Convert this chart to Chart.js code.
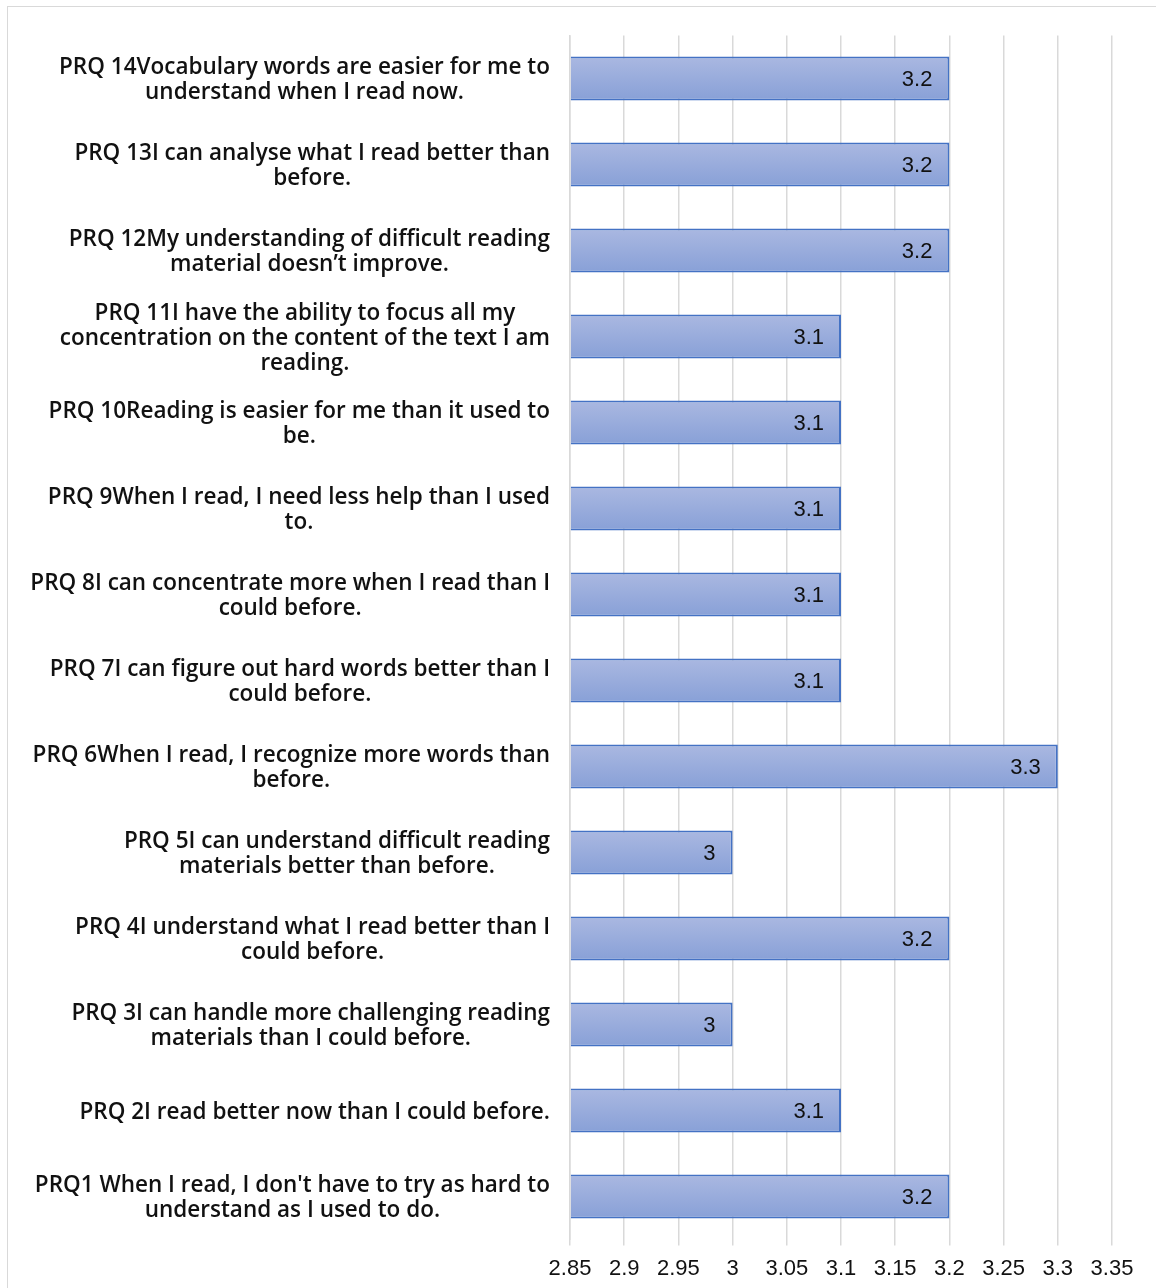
<!DOCTYPE html>
<html>
<head>
<meta charset="utf-8">
<script src="https://cdn.jsdelivr.net/npm/chart.js@4.4.1/dist/chart.umd.min.js"></script>
<style>
  html, body { margin: 0; padding: 0; background: #fff; }
  #frame { position: absolute; left: 7px; top: 6px; width: 1170px; height: 1300px; border: 1px solid #d9d9d9; }
  #wrap { position: absolute; left: 0; top: 0; width: 1156px; height: 1288px; }
</style>
</head>
<body>
<div id="frame"></div>
<div id="wrap"><canvas id="myChart"></canvas></div>
<script>
// categories, top to bottom (already wrapped the way the original shows them)
const categories = [
    ['PRQ 14Vocabulary words are easier for me to', 'understand when I read now.'],
    ['PRQ 13I can analyse what I read better than', 'before.'],
    ['PRQ 12My understanding of difficult reading', 'material doesn\u2019t improve.'],
    ['PRQ 11I have the ability to focus all my', 'concentration on the content of the text I am', 'reading.'],
    ['PRQ 10Reading is easier for me than it used to', 'be.'],
    ['PRQ 9When I read, I need less help than I used', 'to.'],
    ['PRQ 8I can concentrate more when I read than I', 'could before.'],
    ['PRQ 7I can figure out hard words better than I', 'could before.'],
    ['PRQ 6When I read, I recognize more words than', 'before.'],
    ['PRQ 5I can understand difficult reading', 'materials better than before.'],
    ['PRQ 4I understand what I read better than I', 'could before.'],
    ['PRQ 3I can handle more challenging reading', 'materials than I could before.'],
    ['PRQ 2I read better now than I could before.'],
    ['PRQ1 When I read, I don\'t have to try as hard to', 'understand as I used to do.']
];
const values = [3.2, 3.2, 3.2, 3.1, 3.1, 3.1, 3.1, 3.1, 3.3, 3, 3.2, 3, 3.1, 3.2];
const xMin = 2.85;
const xMax = 3.35;
const xStep = 0.05;

const labelFont = '600 22.5px "Open Sans", "Noto Sans", sans-serif';
const barPct = 0.51;

function barGradient(context)
{
    const chart = context.chart;
    const y = chart.scales.y;
    if (!y || !chart.chartArea || context.dataIndex === undefined) return '#98ACDC';
    const c = y.getPixelForValue(context.dataIndex);
    const half = (y.height / categories.length) * barPct / 2;
    const g = chart.ctx.createLinearGradient(0, c - half, 0, c + half);
    g.addColorStop(0, '#AAB8E1');
    g.addColorStop(1, '#88A0D7');
    return g;
}

// category labels: lines centred on each other, block right-aligned to the axis
const catLabels = {
    id: 'catLabels',
    afterDraw(chart) {
        const ctx = chart.ctx;
        const y = chart.scales.y;
        const right = y.right - 20;
        const lineH = 25;
        ctx.save();
        ctx.font = labelFont;
        ctx.fillStyle = '#111';
        ctx.textAlign = 'center';
        ctx.textBaseline = 'middle';
        categories.forEach((lines, i) => {
            const c = y.getPixelForValue(i) + 2;
            let w = 0;
            lines.forEach(l => { w = Math.max(w, ctx.measureText(l).width); });
            const cx = right - w / 2;
            const top = c - (lines.length - 1) * lineH / 2;
            lines.forEach((l, k) => ctx.fillText(l, cx, top + k * lineH));
        });
        ctx.restore();
    }
};

// value labels inside the end of each bar
const valueLabels = {
    id: 'valueLabels',
    afterDatasetsDraw(chart) {
        const ctx = chart.ctx;
        const meta = chart.getDatasetMeta(0);
        ctx.save();
        ctx.font = '22px "Liberation Sans", Arial, sans-serif';
        ctx.fillStyle = '#111';
        ctx.textAlign = 'right';
        ctx.textBaseline = 'middle';
        meta.data.forEach((bar, i) => {
            ctx.fillText(String(values[i]), bar.x - 17, bar.y + 1);
        });
        ctx.restore();
    }
};

const data = {
    labels: categories.map(c => c.join(' ')),
    datasets: [{
        data: values,
        base: xMin,
        backgroundColor: barGradient,
        borderColor: '#4472C4',
        borderWidth: 2,
        categoryPercentage: 1,
        barPercentage: barPct
    }]
};

const config = {
    type: 'bar',
    data: data,
    options: {
        indexAxis: 'y',
        responsive: false,
        animation: false,
        layout: { padding: { top: 35.5, right: 44, bottom: 0, left: 0 } },
        plugins: {
            legend: { display: false },
            tooltip: { enabled: false }
        },
        scales: {
            x: {
                min: xMin,
                max: xMax,
                border: { display: false },
                grid: { color: '#d9d9d9', lineWidth: 1.5, drawTicks: true, tickLength: 6 },
                ticks: {
                    stepSize: xStep,
                    color: '#111',
                    padding: 10,
                    font: { family: '"Liberation Sans", Arial, sans-serif', size: 22 },
                    callback: v => String(Math.round(v * 100) / 100)
                },
                afterFit: s => { s.height = 48.5; }
            },
            y: {
                border: { display: true, color: '#d9d9d9', width: 1.5 },
                grid: { display: false },
                ticks: { display: false },
                afterFit: s => { s.width = 570; }
            }
        }
    },
    plugins: [catLabels, valueLabels]
};

const canvas = document.getElementById('myChart');
canvas.width = 1156;
canvas.height = 1288;
const myChart = new Chart(canvas.getContext('2d'), config);
</script>
</body>
</html>
